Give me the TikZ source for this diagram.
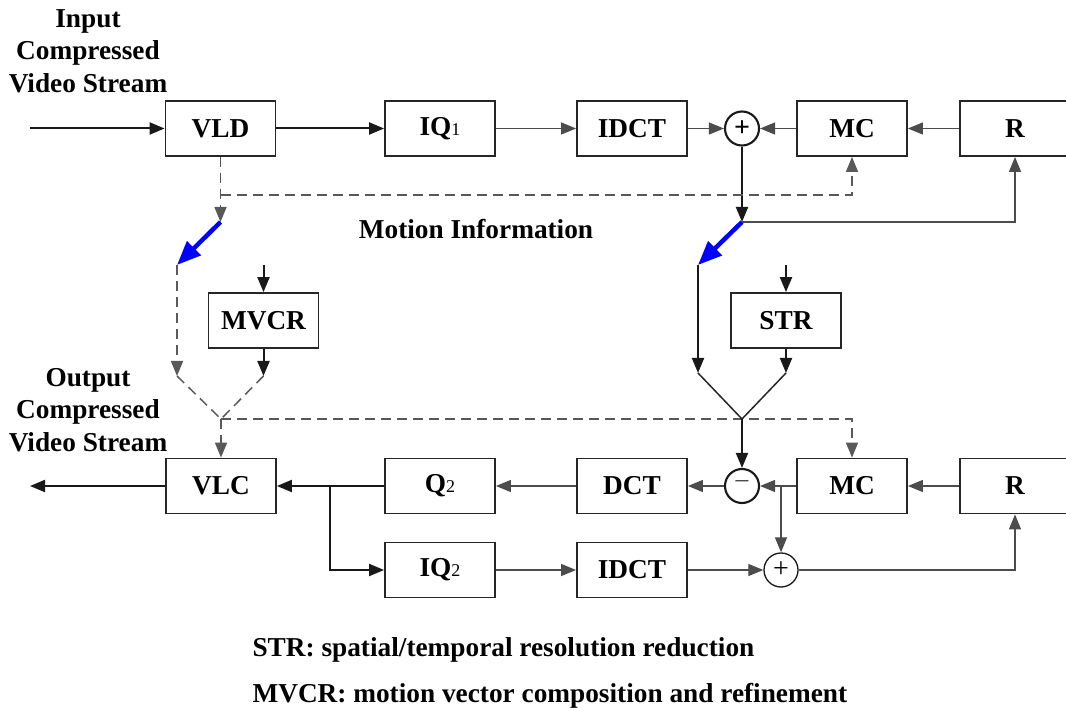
\documentclass[tikz,border=0pt]{standalone}
\usepackage{fontspec}
\setmainfont{Liberation Serif}
\usetikzlibrary{arrows.meta}
\newcommand{\subdig}[1]{{\mdseries\fontsize{18}{18}\selectfont #1}}
\begin{document}
\begin{tikzpicture}[x=1pt,y=-1pt,
  blk/.style={draw=black!85,line width=1.8pt,minimum width=110pt,minimum height=55pt,
    inner sep=0pt,font=\bfseries\fontsize{27.3}{30}\selectfont},
  sumc/.style={circle,draw=black!90,minimum size=34pt,inner sep=0pt,line width=2.1pt,
    font=\bfseries\fontsize{28}{28}\selectfont},
  tip/.style={-{Triangle[length=15pt,width=12pt]}},
  thk/.style={line width=2pt,draw=black!90},
  thn/.style={line width=1.2pt,draw=black!70},
  dsh/.style={line width=1.5pt,draw=black!65,dash pattern=on 10pt off 6pt},
  lbl/.style={font=\bfseries\fontsize{27.3}{32.5}\selectfont,align=center},
  swarrow/.style={line width=4.5pt,draw=blue,-{Triangle[length=24pt,width=19pt]}}
]
\useasboundingbox (0,0) rectangle (1066,711);

% upper chain: decoder
\node[blk] (vld)   at (220.5,128.5) {VLD};
\node[blk] (iq1)   at (440,128.5)   {IQ\subdig{1}};
\node[blk] (idct1) at (632,128.5)   {IDCT};
\node[sumc] (add1) at (742,128.5)   {+};
\node[blk] (mc1)   at (852,128.5)   {MC};
\node[blk] (r1)    at (1015,128.5)  {R};

% middle: switches, MVCR and STR
\node[blk] (mvcr)  at (263.5,320.5) {MVCR};
\node[blk] (str)   at (786,320.5)   {STR};

% lower chain: encoder
\node[blk] (vlc)   at (221,486)  {VLC};
\node[blk] (q2)    at (440,486)  {Q\subdig{2}};
\node[blk] (dct)   at (632,486)  {DCT};
\node[sumc] (sub)  at (742,486)  {\mdseries\textcolor{black!70}{−}};
\node[blk] (mc2)   at (852,486)  {MC};
\node[blk] (r2)    at (1015,486) {R};
\node[blk] (iq2)   at (440,570)  {IQ\subdig{2}};
\node[blk] (idct2) at (632,570)  {IDCT};
\node[sumc,line width=1.3pt,font=\mdseries\fontsize{28}{28}\selectfont] (add2) at (781,570) {+};

% helper points
\coordinate (in)   at (30,128.5);
\coordinate (out)  at (30,486);
\coordinate (mv)   at (220.5,195);
\coordinate (sw1a) at (220.5,222);
\coordinate (sw1b) at (177,265);
\coordinate (m1)   at (177,376);
\coordinate (mvin) at (263.5,265);
\coordinate (m2)   at (263.5,376);
\coordinate (j1)   at (221,419);
\coordinate (sw2a) at (742,222);
\coordinate (sw2b) at (698,265);
\coordinate (s1)   at (698,373);
\coordinate (stin) at (786,265);
\coordinate (s2)   at (786,373);
\coordinate (j2)   at (742,419);
\coordinate (br1)  at (330,486);
\coordinate (br2)  at (781,486);

% labels
\node[lbl] (inlbl)  at (88,51)  {Input\\Compressed\\Video Stream};
\node[lbl] (outlbl) at (88,410) {Output\\Compressed\\Video Stream};
\node[lbl] (motion) at (476,229) {Motion Information};
\node[lbl,anchor=west] (leg1) at (249,650) {STR: spatial/temporal resolution reduction};
\node[lbl,anchor=west] (leg2) at (249,696) {MVCR: motion vector composition and refinement};

% upper chain connectors
\draw[thk,tip] (in) -- (vld.west);
\draw[thk,tip] (vld) -- (iq1);
\draw[thn,tip] (iq1) -- (idct1);
\draw[thn,tip] (idct1) -- (add1);
\draw[thn,tip] (mc1) -- (add1);
\draw[thn,tip] (r1) -- (mc1);
\draw[thk,tip] (add1) -- (sw2a);
\draw[thn,tip] (sw2a) -| (r1.south);

% motion information
\draw[dsh,tip] (vld) -- (sw1a);
\draw[dsh,tip] (mv) -| (mc1.south);
\draw[swarrow] (sw1a) -- (sw1b);
\draw[dsh,tip] (sw1b) -- (m1);
\draw[thk,tip] (mvin) -- (mvcr.north);
\draw[thk,tip] (mvcr) -- (m2);
\draw[dsh] (m1) -- (j1) -- (m2);
\draw[dsh,tip] (j1) -- (vlc.north);
\draw[dsh,tip] (j1) -| (mc2.north);

% pixel path through STR
\draw[swarrow] (sw2a) -- (sw2b);
\draw[thk,tip] (sw2b) -- (s1);
\draw[thk,tip] (stin) -- (str.north);
\draw[thk,tip] (str) -- (s2);
\draw[thn,line width=1.5pt,draw=black!85] (s1) -- (j2) -- (s2);
\draw[thk,tip] (j2) -- (sub.north);

% lower chain connectors
\draw[thn,tip] (r2) -- (mc2);
\draw[thn,tip] (mc2) -- (sub);
\draw[thn,tip] (br2) -- (add2.north);
\draw[thn,tip] (sub) -- (dct);
\draw[thn,tip] (dct) -- (q2);
\draw[thk,tip] (q2) -- (vlc);
\draw[thk,tip] (br1) |- (iq2.west);
\draw[thn,tip] (iq2) -- (idct2);
\draw[thn,tip] (idct2) -- (add2);
\draw[thn,tip] (add2) -| (r2.south);
\draw[thk,tip] (vlc.west) -- (out);
\end{tikzpicture}
\end{document}
